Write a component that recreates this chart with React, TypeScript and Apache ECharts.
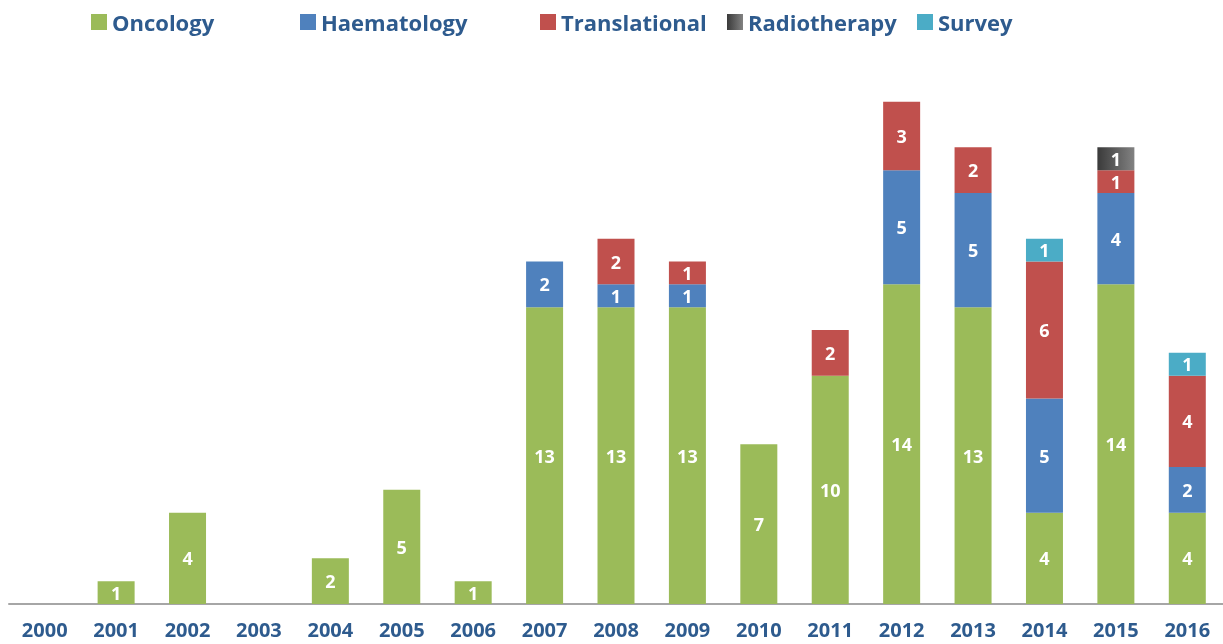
import React, { useEffect, useRef } from "react";
import * as echarts from "echarts";

const years = ["2000","2001","2002","2003","2004","2005","2006","2007","2008","2009","2010","2011","2012","2013","2014","2015","2016"];
const oncology =      [0,1,4,0,2,5,1,13,13,13,7,10,14,13,4,14,4];
const haematology =   [0,0,0,0,0,0,0,2,1,1,0,0,5,5,5,4,2];
const translational = [0,0,0,0,0,0,0,0,2,1,0,2,3,2,6,1,4];
const radiotherapy =  [0,0,0,0,0,0,0,0,0,0,0,0,0,0,0,1,0];
const survey =        [0,0,0,0,0,0,0,0,0,0,0,0,0,0,1,0,1];

const FONT = "'Open Sans', sans-serif";
const LABEL_COLOR = "#2E5B8E";

export default function App() {
  const ref = useRef<HTMLDivElement>(null);
  useEffect(() => {
    if (!ref.current) return;
    const chart = echarts.init(ref.current, null, { renderer: "svg" });
    const radioGrad = new echarts.graphic.LinearGradient(0, 0, 1, 0, [
      { offset: 0, color: "#3A3A3A" },
      { offset: 1, color: "#828282" },
    ]);
    const seriesDefs = [
      { name: "Oncology", data: oncology, color: "#9BBB59" },
      { name: "Haematology", data: haematology, color: "#4F81BD" },
      { name: "Translational", data: translational, color: "#C0504D" },
      { name: "Radiotherapy", data: radiotherapy, color: radioGrad as any },
      { name: "Survey", data: survey, color: "#4BACC6" },
    ];
    const legendLefts = [91, 300, 540, 727, 917];
    chart.setOption({
      animation: false,
      grid: { left: 9, right: 0, top: 56, bottom: 40, containLabel: false },
      legend: seriesDefs.map((s, i) => ({
        data: [s.name],
        left: legendLefts[i],
        top: 11,
        padding: 0,
        itemWidth: 16,
        itemHeight: 16,
        icon: "rect",
        textStyle: { fontFamily: FONT, fontSize: 22, fontWeight: "bold", color: LABEL_COLOR },
      })),
      xAxis: {
        type: "category",
        data: years,
        axisTick: { show: false },
        axisLine: { lineStyle: { color: "#A6A6A6", width: 2 } },
        axisLabel: { fontFamily: FONT, fontSize: 20, lineHeight: 20, fontWeight: "bold", color: LABEL_COLOR, margin: 15 },
      },
      yAxis: { type: "value", min: 0, max: 24, show: false, splitLine: { show: false } },
      series: seriesDefs.map((s) => ({
        name: s.name,
        type: "bar",
        stack: "total",
        barWidth: 37,
        data: s.data,
        itemStyle: { color: s.color },
        label: {
          show: true,
          position: "inside",
          color: "#FFFFFF",
          fontFamily: FONT,
          fontSize: 18,
          fontWeight: "bold",
          formatter: (p: any) => (p.value ? String(p.value) : ""),
        },
      })),
    });
    return () => chart.dispose();
  }, []);
  return <div ref={ref} style={{ position: "fixed", left: 0, top: 0, width: 1223, height: 644 }} />;
}
